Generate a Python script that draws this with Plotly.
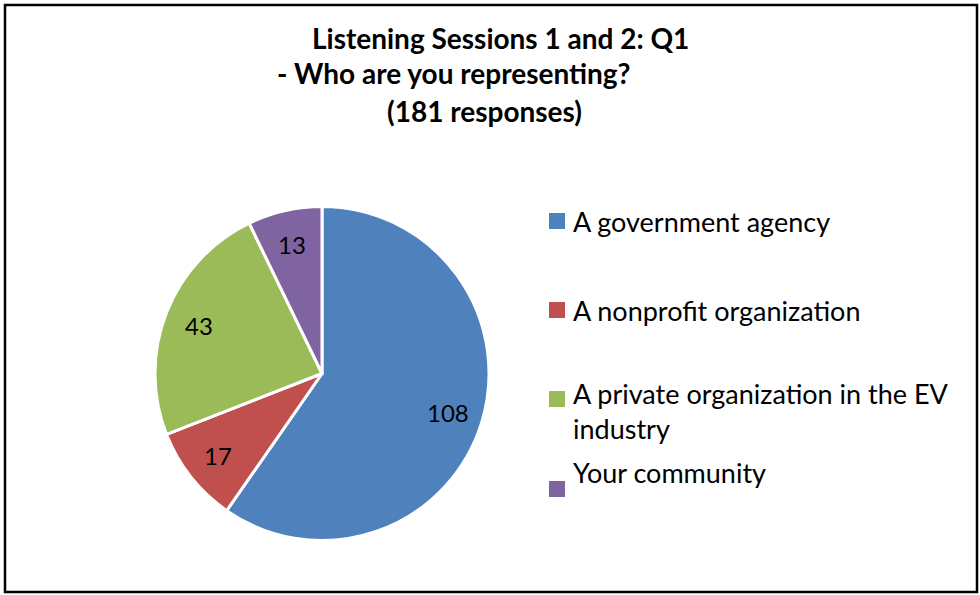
import math
import plotly.graph_objects as go

# Survey answers, in the order they sweep clockwise from 12 o'clock
categories = ["A government agency", "A nonprofit organization",
              "A private organization in the EV industry", "Your community"]
legend_text = ["A government agency", "A nonprofit organization",
               "A private organization in the EV<br>industry", "Your community"]
responses = [108, 17, 43, 13]
colors = ["#4F81BD", "#C0504D", "#9BBB59", "#8064A2"]

title_lines = ["Listening Sessions 1 and 2: Q1",
               "- Who are you representing?",
               "(181 responses)"]

W, H = 980, 595
FONT = "Lato"


def px(x):
    return x / W


def py(y):
    return 1 - y / H


# pie centre and radius in pixels
cx, cy, r = 322, 373.5, 167

fig = go.Figure(go.Pie(
    labels=categories,
    values=responses,
    sort=False,
    direction="clockwise",
    rotation=0,
    marker=dict(colors=colors, line=dict(color="white", width=3)),
    textinfo="none",
    domain=dict(x=[px(cx - r), px(cx + r)], y=[py(cy + r), py(cy - r)]),
    showlegend=False,
    hoverinfo="label+value",
))

annotations = []

# value labels placed on each slice's bisector
total = sum(responses)
cum = 0
for v in responses:
    mid = (cum + v / 2) / total * 2 * math.pi
    cum += v
    lx = cx + 0.79 * r * math.sin(mid)
    ly = cy - 0.79 * r * math.cos(mid)
    annotations.append(dict(text=str(v), x=px(lx), y=py(ly), xref="paper", yref="paper",
                            xanchor="center", yanchor="middle", showarrow=False,
                            font=dict(family=FONT, size=24, color="black")))

# title, one line per annotation
title_pos = [(500, 38), (454, 73), (484, 111)]
for txt, (x, y) in zip(title_lines, title_pos):
    annotations.append(dict(text=f"<b>{txt}</b>", x=px(x), y=py(y), xref="paper", yref="paper",
                            xanchor="center", yanchor="middle", showarrow=False,
                            font=dict(family=FONT, size=28, color="black")))

# legend: swatch + label
shapes = []
swatch_y = [221, 310, 399, 489]
text_y = [221, 310, 411, 472]
for i, (lab, col) in enumerate(zip(legend_text, colors)):
    shapes.append(dict(type="rect", xref="paper", yref="paper",
                       x0=px(549), x1=px(565), y0=py(swatch_y[i] + 8), y1=py(swatch_y[i] - 8),
                       fillcolor=col, line=dict(width=0)))
    annotations.append(dict(text=lab, x=px(571), y=py(text_y[i]), xref="paper", yref="paper",
                            xanchor="left", yanchor="middle", align="left", showarrow=False,
                            font=dict(family=FONT, size=27, color="black")))

# outer frame
shapes.append(dict(type="rect", xref="paper", yref="paper",
                   x0=px(5), x1=px(977), y0=py(592), y1=py(5),
                   line=dict(color="black", width=2.5), fillcolor="rgba(0,0,0,0)"))

fig.update_layout(
    width=W, height=H,
    margin=dict(l=0, r=0, t=0, b=0),
    paper_bgcolor="white",
    plot_bgcolor="white",
    annotations=annotations,
    shapes=shapes,
)

fig.write_html("out.html")
